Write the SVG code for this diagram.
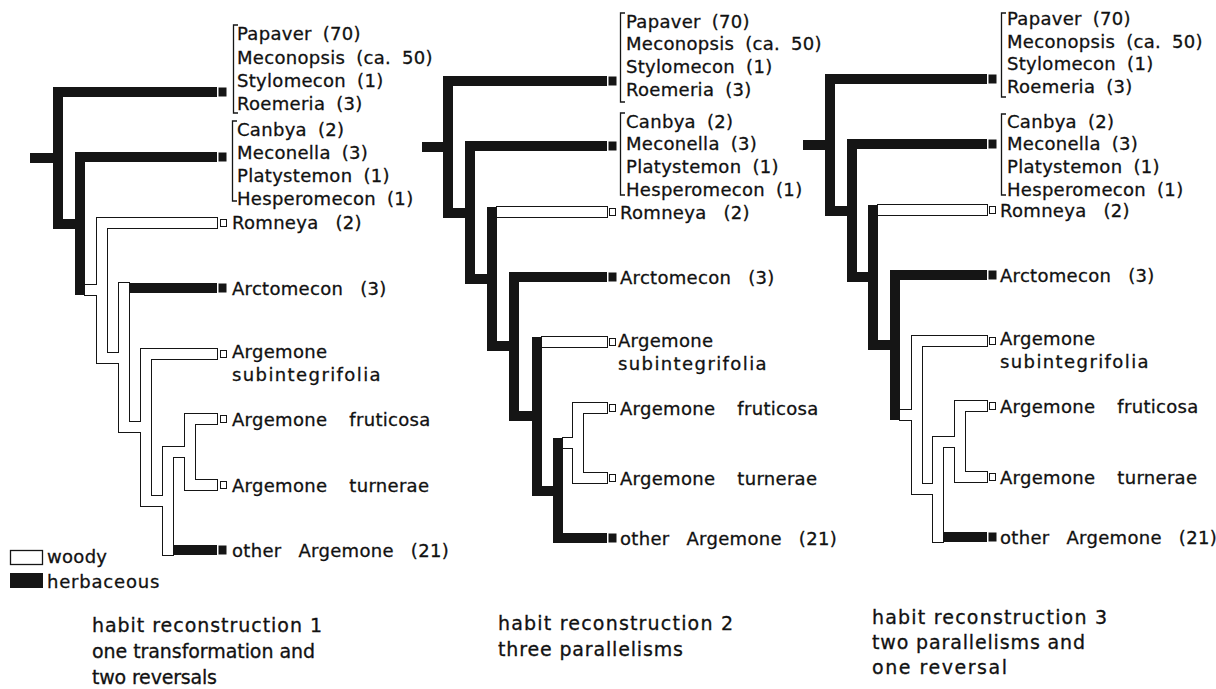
<svg xmlns="http://www.w3.org/2000/svg" xmlns:xlink="http://www.w3.org/1999/xlink" width="1216" height="689" viewBox="0 0 1216 689">
<style>
.herb{fill:#151515}
.wo{fill:#fff;stroke:#151515;stroke-width:2}
.wf{fill:#fff;stroke:none}
.tiph{fill:#151515}
.tipw{fill:#fff;stroke:#151515;stroke-width:1}
.br{fill:none;stroke:#151515;stroke-width:1.3}
.lbl{font-family:"DejaVu Sans",Verdana,sans-serif;font-size:18px;fill:#111;stroke:#111;stroke-width:0.3px;letter-spacing:0.3px;word-spacing:5px}
.w2{word-spacing:16px}
.w1{word-spacing:11px}
.sub{letter-spacing:1.4px}
.cap{font-family:"DejaVu Sans",Verdana,sans-serif;font-size:19px;fill:#111;stroke:#111;stroke-width:0.3px}
</style>
<defs>
<g id="t1w">
<rect x="85" y="285" width="12" height="10"/>
<rect x="97" y="218" width="10" height="145"/>
<rect x="107" y="218" width="110" height="10"/>
<rect x="107" y="353" width="12" height="10"/>
<rect x="119" y="283" width="10" height="149"/>
<rect x="129" y="422" width="12" height="10"/>
<rect x="141" y="349" width="10" height="157"/>
<rect x="151" y="349" width="66" height="10"/>
<rect x="151" y="496" width="12" height="10"/>
<rect x="163" y="447" width="10" height="108"/>
<rect x="173" y="447" width="12" height="10"/>
<rect x="185" y="414" width="10" height="76"/>
<rect x="195" y="414" width="22" height="10"/>
<rect x="195" y="480" width="22" height="10"/>
</g>
<g id="t2w">
<rect x="497" y="207" width="110" height="10"/>
<rect x="542" y="337" width="65" height="10"/>
<rect x="563" y="438" width="10" height="10"/>
<rect x="573" y="403" width="10" height="80"/>
<rect x="583" y="403" width="24" height="10"/>
<rect x="583" y="473" width="24" height="10"/>
</g>
<g id="t3w">
<rect x="878" y="205" width="109" height="10"/>
<rect x="900" y="410" width="12" height="10"/>
<rect x="912" y="336" width="10" height="158"/>
<rect x="922" y="336" width="65" height="10"/>
<rect x="922" y="484" width="11" height="10"/>
<rect x="933" y="437" width="10" height="105"/>
<rect x="943" y="437" width="12" height="10"/>
<rect x="955" y="401" width="10" height="81"/>
<rect x="965" y="401" width="22" height="10"/>
<rect x="965" y="472" width="22" height="10"/>
</g>
</defs>
<rect x="0" y="0" width="1216" height="689" fill="#fff"/>

<!-- ===== Tree 1 ===== -->
<g id="t1-connectors">
<use xlink:href="#t1w" class="wo"/>
<use xlink:href="#t1w" class="wf"/>
<g class="herb">
<rect x="30" y="153" width="23" height="10"/>
<rect x="53" y="87" width="10" height="142"/>
<rect x="63" y="87" width="154" height="10"/>
<rect x="63" y="219" width="12" height="10"/>
<rect x="75" y="152" width="10" height="143"/>
<rect x="85" y="152" width="132" height="10"/>
<rect x="129" y="283" width="88" height="10"/>
<rect x="173" y="545" width="44" height="10"/>
</g>
</g>
<g id="t1-papaver">
<rect class="tiph" x="218.5" y="87.5" width="8" height="9"/>
<path class="br" d="M238 25H233.5V113H238"/>
<text class="lbl" x="237" y="40">Papaver (70)</text>
<text class="lbl" x="237" y="64">Meconopsis (ca. 50)</text>
<text class="lbl" x="237" y="87">Stylomecon (1)</text>
<text class="lbl" x="237" y="110">Roemeria (3)</text>
</g>
<g id="t1-canbya">
<rect class="tiph" x="218.5" y="152.5" width="8" height="9"/>
<path class="br" d="M237 121H232.5V201H237"/>
<text class="lbl" x="237" y="136">Canbya (2)</text>
<text class="lbl" x="237" y="159">Meconella (3)</text>
<text class="lbl" x="237" y="182">Platystemon (1)</text>
<text class="lbl" x="237" y="205">Hesperomecon (1)</text>
</g>
<g id="t1-romneya">
<rect class="tipw" x="220.5" y="219.5" width="6" height="7"/>
<text class="lbl w1" x="232" y="229">Romneya (2)</text>
</g>
<g id="t1-arctomecon">
<rect class="tiph" x="218.5" y="283.5" width="8" height="9"/>
<text class="lbl w1" x="232" y="295">Arctomecon (3)</text>
</g>
<g id="t1-subintegrifolia">
<rect class="tipw" x="220.5" y="350.5" width="6" height="7"/>
<text class="lbl" x="232" y="358">Argemone</text>
<text class="lbl sub" x="232" y="381">subintegrifolia</text>
</g>
<g id="t1-fruticosa">
<rect class="tipw" x="220.5" y="415.5" width="6" height="7"/>
<text class="lbl w2" x="232" y="425.5">Argemone fruticosa</text>
</g>
<g id="t1-turnerae">
<rect class="tipw" x="220.5" y="481.5" width="6" height="7"/>
<text class="lbl w2" x="232" y="491.5">Argemone turnerae</text>
</g>
<g id="t1-other">
<rect class="tiph" x="218.5" y="545.5" width="8" height="9"/>
<text class="lbl w1" x="232" y="557">other Argemone (21)</text>
</g>
<g id="legend">
<rect x="10.5" y="550.5" width="32" height="14" fill="#fff" stroke="#151515" stroke-width="1.3"/>
<text class="lbl" x="47" y="563">woody</text>
<rect class="herb" x="10" y="573" width="33" height="15"/>
<text class="lbl" x="47" y="588" style="letter-spacing:0.8px">herbaceous</text>
</g>
<g id="caption-1">
<text class="cap" x="92" y="632" textLength="230" lengthAdjust="spacing">habit reconstruction 1</text>
<text class="cap" x="92" y="658" textLength="223" lengthAdjust="spacing">one transformation and</text>
<text class="cap" x="92" y="684" textLength="125" lengthAdjust="spacing">two reversals</text>
</g>

<!-- ===== Tree 2 ===== -->
<g id="t2-connectors">
<use xlink:href="#t2w" class="wo"/>
<use xlink:href="#t2w" class="wf"/>
<g class="herb">
<rect x="422" y="142" width="21" height="10"/>
<rect x="443" y="76" width="10" height="142"/>
<rect x="453" y="76" width="154" height="10"/>
<rect x="453" y="208" width="12" height="10"/>
<rect x="465" y="141" width="10" height="143"/>
<rect x="475" y="141" width="132" height="10"/>
<rect x="475" y="274" width="12" height="10"/>
<rect x="487" y="207" width="10" height="144"/>
<rect x="497" y="341" width="12" height="10"/>
<rect x="509" y="272" width="10" height="149"/>
<rect x="519" y="272" width="88" height="10"/>
<rect x="519" y="411" width="13" height="10"/>
<rect x="532" y="337" width="10" height="159"/>
<rect x="542" y="486" width="11" height="10"/>
<rect x="553" y="438" width="10" height="105"/>
<rect x="563" y="533" width="44" height="10"/>
</g>
</g>
<g id="t2-papaver">
<rect class="tiph" x="608.5" y="76.5" width="8" height="9"/>
<path class="br" d="M625 13H620.5V102H625"/>
<text class="lbl" x="626" y="28">Papaver (70)</text>
<text class="lbl" x="626" y="50">Meconopsis (ca. 50)</text>
<text class="lbl" x="626" y="73">Stylomecon (1)</text>
<text class="lbl" x="626" y="96">Roemeria (3)</text>
</g>
<g id="t2-canbya">
<rect class="tiph" x="608.5" y="141.5" width="8" height="9"/>
<path class="br" d="M625 113H620.5V195H625"/>
<text class="lbl" x="626" y="128">Canbya (2)</text>
<text class="lbl" x="626" y="150">Meconella (3)</text>
<text class="lbl" x="626" y="173">Platystemon (1)</text>
<text class="lbl" x="626" y="196">Hesperomecon (1)</text>
</g>
<g id="t2-romneya">
<rect class="tipw" x="609.5" y="208.5" width="6" height="7"/>
<text class="lbl w1" x="620" y="218.5">Romneya (2)</text>
</g>
<g id="t2-arctomecon">
<rect class="tiph" x="608.5" y="272.5" width="8" height="9"/>
<text class="lbl w1" x="620" y="283.5">Arctomecon (3)</text>
</g>
<g id="t2-subintegrifolia">
<rect class="tipw" x="609.5" y="338.5" width="6" height="7"/>
<text class="lbl" x="618" y="347">Argemone</text>
<text class="lbl sub" x="618" y="370">subintegrifolia</text>
</g>
<g id="t2-fruticosa">
<rect class="tipw" x="609.5" y="404.5" width="6" height="7"/>
<text class="lbl w2" x="620" y="414.5">Argemone fruticosa</text>
</g>
<g id="t2-turnerae">
<rect class="tipw" x="609.5" y="474.5" width="6" height="7"/>
<text class="lbl w2" x="620" y="484.5">Argemone turnerae</text>
</g>
<g id="t2-other">
<rect class="tiph" x="608.5" y="533.5" width="8" height="9"/>
<text class="lbl w1" x="620" y="544.5">other Argemone (21)</text>
</g>
<g id="caption-2">
<text class="cap" x="498" y="630" textLength="235" lengthAdjust="spacing">habit reconstruction 2</text>
<text class="cap" x="498" y="656" textLength="185" lengthAdjust="spacing">three parallelisms</text>
</g>

<!-- ===== Tree 3 ===== -->
<g id="t3-connectors">
<use xlink:href="#t3w" class="wo"/>
<use xlink:href="#t3w" class="wf"/>
<g class="herb">
<rect x="803" y="140" width="22" height="10"/>
<rect x="825" y="74" width="10" height="142"/>
<rect x="835" y="74" width="152" height="10"/>
<rect x="835" y="206" width="12" height="10"/>
<rect x="847" y="139" width="10" height="143"/>
<rect x="857" y="139" width="130" height="10"/>
<rect x="857" y="272" width="11" height="10"/>
<rect x="868" y="205" width="10" height="145"/>
<rect x="878" y="340" width="12" height="10"/>
<rect x="890" y="270" width="10" height="150"/>
<rect x="900" y="270" width="87" height="10"/>
<rect x="943" y="532" width="44" height="10"/>
</g>
</g>
<g id="t3-papaver">
<rect class="tiph" x="988.5" y="74.5" width="8" height="9"/>
<path class="br" d="M1006 13H1001.5V97H1006"/>
<text class="lbl" x="1007" y="25">Papaver (70)</text>
<text class="lbl" x="1007" y="48">Meconopsis (ca. 50)</text>
<text class="lbl" x="1007" y="70">Stylomecon (1)</text>
<text class="lbl" x="1007" y="93">Roemeria (3)</text>
</g>
<g id="t3-canbya">
<rect class="tiph" x="988.5" y="139.5" width="8" height="9"/>
<path class="br" d="M1006 114H1001.5V195H1006"/>
<text class="lbl" x="1007" y="128">Canbya (2)</text>
<text class="lbl" x="1007" y="150">Meconella (3)</text>
<text class="lbl" x="1007" y="173">Platystemon (1)</text>
<text class="lbl" x="1007" y="196">Hesperomecon (1)</text>
</g>
<g id="t3-romneya">
<rect class="tipw" x="989.5" y="206.5" width="6" height="7"/>
<text class="lbl w1" x="1000" y="216.5">Romneya (2)</text>
</g>
<g id="t3-arctomecon">
<rect class="tiph" x="988.5" y="270.5" width="8" height="9"/>
<text class="lbl w1" x="1000" y="281.5">Arctomecon (3)</text>
</g>
<g id="t3-subintegrifolia">
<rect class="tipw" x="989.5" y="337.5" width="6" height="7"/>
<text class="lbl" x="1000" y="345">Argemone</text>
<text class="lbl sub" x="1000" y="368">subintegrifolia</text>
</g>
<g id="t3-fruticosa">
<rect class="tipw" x="989.5" y="402.5" width="6" height="7"/>
<text class="lbl w2" x="1000" y="412.5">Argemone fruticosa</text>
</g>
<g id="t3-turnerae">
<rect class="tipw" x="989.5" y="473.5" width="6" height="7"/>
<text class="lbl w2" x="1000" y="483.5">Argemone turnerae</text>
</g>
<g id="t3-other">
<rect class="tiph" x="988.5" y="532.5" width="8" height="9"/>
<text class="lbl w1" x="1000" y="543.5">other Argemone (21)</text>
</g>
<g id="caption-3">
<text class="cap" x="872" y="624" textLength="235" lengthAdjust="spacing">habit reconstruction 3</text>
<text class="cap" x="872" y="649" textLength="213" lengthAdjust="spacing">two parallelisms and</text>
<text class="cap" x="872" y="674" textLength="135" lengthAdjust="spacing">one reversal</text>
</g>
</svg>
